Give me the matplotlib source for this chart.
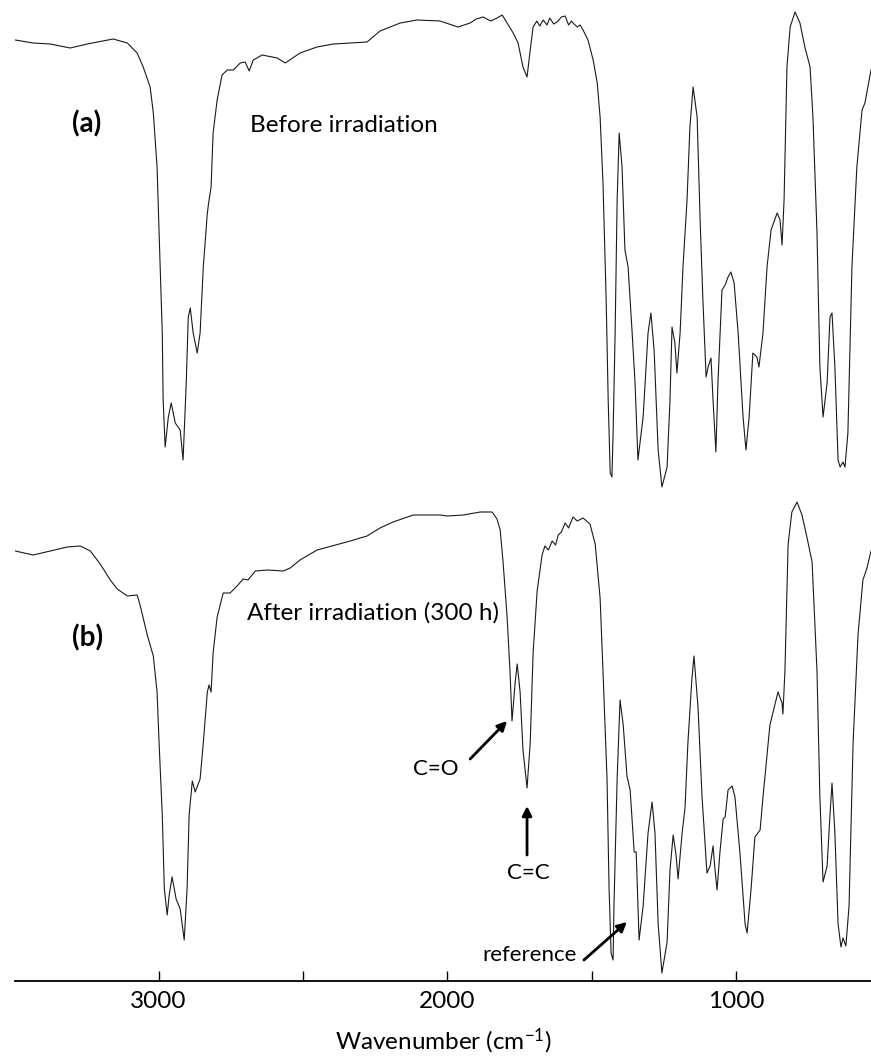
import matplotlib
matplotlib.use("Agg")
import matplotlib.pyplot as plt
import numpy as np

plt.rcParams['font.family'] = ['Lato', 'DejaVu Sans']
plt.rcParams['mathtext.default'] = 'regular'

# spectrum (a): before irradiation, wavenumber (cm-1) and transmittance (a.u.)
wn_a = [3496, 3434, 3375, 3306, 3247, 3157, 3108, 3074, 3053, 3029, 3018, 3005, 2998,
        2987, 2984, 2977, 2966, 2956, 2942, 2925, 2915, 2904, 2897, 2890, 2880, 2866,
        2856, 2845, 2831, 2825, 2818, 2811, 2797, 2780, 2762, 2741, 2717, 2700, 2686,
        2672, 2641, 2589, 2561, 2510, 2451, 2395, 2278, 2233, 2163, 2105, 2025, 2015,
        1963, 1921, 1900, 1876, 1850, 1828, 1810, 1793, 1772, 1755, 1738, 1724, 1713,
        1703, 1690, 1680, 1668, 1655, 1645, 1632, 1620, 1605, 1592, 1580, 1570, 1565,
        1550, 1540, 1530, 1513, 1495, 1481, 1471, 1461, 1450, 1443, 1436, 1430, 1426,
        1419, 1412, 1405, 1395, 1385, 1374, 1360, 1350, 1340, 1322, 1305, 1295, 1284,
        1270, 1257, 1239, 1229, 1222, 1212, 1205, 1194, 1184, 1170, 1160, 1149, 1135,
        1125, 1115, 1104, 1097, 1087, 1080, 1070, 1063, 1049, 1038, 1028, 1018, 1007,
        993, 976, 966, 955, 942, 928, 921, 907, 893, 879, 858, 848, 841, 834, 824, 813,
        796, 779, 762, 744, 734, 720, 710, 699, 685, 675, 668, 658, 647, 640, 630, 623,
        613, 599, 582, 564, 554, 544, 533]
t_a = [46.1, 45.8, 45.7, 45.3, 45.7, 46.2, 45.8, 44.8, 43.4, 41.4, 38.8, 33.4, 26.8,
       16.8, 10.1, 5.4, 8.4, 9.8, 7.8, 7.1, 4.1, 11.8, 18.4, 19.3, 16.8, 14.8,
       16.8, 23.4, 28.8, 30.1, 31.4, 36.8, 40.1, 42.6, 43.1, 43.1, 43.8, 43.9, 43.0,
       44.1, 44.6, 44.3, 43.8, 44.8, 45.4, 45.7, 45.9, 47.0, 47.8, 48.1, 48.0, 47.9,
       47.4, 47.8, 48.2, 48.4, 48.0, 48.3, 48.6, 47.8, 46.8, 45.8, 43.4, 42.4, 45.1,
       47.4, 48.0, 47.5, 48.1, 47.6, 48.3, 47.7, 47.9, 48.4, 48.5, 47.6, 48.0, 47.8,
       47.4, 47.6, 47.1, 46.1, 44.1, 41.8, 38.4, 31.8, 20.1, 10.1, 2.8, 2.4, 6.8,
       16.8, 30.1, 36.8, 33.4, 25.1, 23.4, 16.8, 11.8, 4.1, 8.4, 16.8, 18.8, 15.1,
       5.1, 1.4, 3.4, 10.1, 17.4, 15.8, 12.8, 16.8, 23.4, 30.1, 37.4, 41.4, 38.4,
       28.4, 20.1, 12.4, 13.4, 14.3, 10.1, 4.9, 11.8, 21.1, 21.6, 22.4, 22.9, 21.8,
       16.8, 8.4, 5.1, 8.4, 14.8, 14.4, 13.4, 16.8, 23.4, 27.1, 28.8, 28.1, 25.6, 30.1, 43.4, 47.4,
       48.9, 47.8, 45.4, 43.4, 38.4, 26.8, 13.4, 8.4, 11.8, 18.4, 18.8, 13.4, 4.1, 3.4, 3.9, 3.4,
       6.8, 23.4, 33.4, 39.1, 39.8, 41.4, 43.1]

# spectrum (b): after irradiation (300 h)
wn_b = [3496, 3434, 3375, 3316, 3271, 3236, 3202, 3167, 3143, 3108, 3074, 3063, 3039,
        3018, 3005, 2998, 2987, 2980, 2970, 2963, 2953, 2939, 2925, 2911, 2901, 2894,
        2883, 2873, 2856, 2845, 2831, 2825, 2818, 2811, 2797, 2776, 2752, 2728, 2707,
        2690, 2665, 2624, 2568, 2544, 2510, 2451, 2336, 2278, 2233, 2188, 2118, 2025,
        2001, 1945, 1886, 1845, 1828, 1817, 1807, 1793, 1783, 1776, 1765, 1758, 1748,
        1738, 1724, 1713, 1703, 1689, 1672, 1662, 1650, 1637, 1625, 1616, 1605, 1592,
        1580, 1565, 1550, 1530, 1506, 1488, 1471, 1461, 1447, 1440, 1433, 1426, 1423,
        1412, 1402, 1391, 1378, 1367, 1353, 1346, 1336, 1322, 1305, 1291, 1281, 1270,
        1257, 1239, 1229, 1218, 1208, 1201, 1187, 1177, 1167, 1153, 1146, 1132, 1118,
        1101, 1090, 1080, 1073, 1066, 1056, 1045, 1038, 1028, 1014, 1004, 987, 969,
        962, 948, 935, 917, 907, 883, 855, 841, 838, 831, 820, 807, 789, 772, 755, 737,
        720, 710, 699, 685, 675, 668, 658, 647, 637, 630, 620, 609, 595, 578, 561, 547, 533]
t_b = [43.0, 42.6, 43.0, 43.4, 43.5, 43.0, 41.7, 40.1, 39.2, 38.5, 38.6, 37.5, 34.6,
       32.5, 28.9, 23.8, 16.6, 9.3, 6.6, 8.6, 10.4, 8.2, 7.2, 4.1, 9.3, 16.6,
       20.0, 18.9, 20.2, 23.8, 28.9, 29.6, 28.9, 32.8, 36.4, 38.8, 38.8, 39.5, 40.2,
       40.1, 41.0, 41.1, 41.0, 41.3, 42.1, 43.1, 44.0, 44.5, 45.3, 45.9, 46.6, 46.6,
       46.5, 46.6, 46.9, 46.9, 46.2, 45.1, 41.9, 36.4, 31.0, 26.0, 29.9, 31.7, 28.9,
       23.1, 19.3, 23.8, 32.8, 39.0, 42.6, 43.5, 43.1, 44.0, 43.6, 44.6, 44.9, 45.8,
       45.3, 46.4, 46.0, 46.3, 45.7, 43.7, 38.3, 31.0, 20.2, 9.3, 2.8, 2.1, 7.5,
       20.2, 28.1, 25.6, 20.5, 19.1, 12.9, 12.9, 4.1, 7.5, 14.8, 17.9, 14.8, 5.7,
       0.8, 3.9, 11.1, 14.6, 12.6, 10.2, 14.8, 17.3, 23.8, 30.3, 32.5, 27.4, 18.4,
       10.8, 11.5, 13.5, 11.1, 9.1, 12.9, 16.2, 16.4, 19.1, 19.5, 18.4, 12.9, 5.7,
       4.8, 9.3, 14.4, 15.1, 18.4, 25.6, 28.9, 27.8, 26.7, 31.0, 43.7, 46.9, 47.9, 46.6, 44.4, 41.9,
       31.0, 18.4, 9.9, 11.5, 16.6, 19.8, 14.8, 5.7, 3.4, 4.3, 3.5, 7.5, 23.8, 34.6, 40.1, 41.3, 43.0]

offset_a = 48.0  # vertical shift of spectrum (a)

fig = plt.figure(figsize=(8.71, 10.57), dpi=100)
ax = fig.add_axes([0.0172, 0.0719, 0.9828, 0.9281])

ax.plot(wn_a, np.array(t_a) + offset_a, color='#1a1a1a', lw=0.8)
ax.plot(wn_b, t_b, color='#1a1a1a', lw=0.8)

ax.set_xlim(3497, 533)
ax.set_ylim(0, 98.1)

for s in ['top', 'left', 'right']:
    ax.spines[s].set_visible(False)
ax.spines['bottom'].set_linewidth(1.3)
ax.set_yticks([])
ax.set_xticks([3000, 2000, 1000])
ax.set_xticks([2500, 1500], minor=True)
ax.tick_params(axis='x', which='both', direction='in', length=7, width=1, pad=7, labelsize=17.5)
ax.set_xlabel('Wavenumber (cm$^{-1}$)', fontsize=17.5, labelpad=11)

# labels
ax.text(3299, 85.7, '(a)', fontsize=20, fontweight='bold', va='center', ha='left')
ax.text(2683, 85.6, 'Before irradiation', fontsize=17.5, va='center', ha='left')
ax.text(3299, 34.3, '(b)', fontsize=20, fontweight='bold', va='center', ha='left')
ax.text(2693, 36.8, 'After irradiation (300 h)', fontsize=17.5, va='center', ha='left')

arrow = dict(arrowstyle='-|>', lw=2, color='black', mutation_scale=14, shrinkA=0, shrinkB=0)
ax.text(2039, 21.2, 'C=O', fontsize=16, ha='center', va='center')
ax.annotate('', xy=(1793, 26.0), xytext=(1921, 22.2), arrowprops=arrow)
ax.text(1720, 10.8, 'C=C', fontsize=16, ha='center', va='center')
ax.annotate('', xy=(1724, 17.5), xytext=(1724, 12.6), arrowprops=arrow)
ax.text(1551, 2.6, 'reference', fontsize=16, ha='right', va='center')
ax.annotate('', xy=(1378, 5.9), xytext=(1527, 2.1), arrowprops=arrow)

fig.savefig('out.png', dpi=100)
